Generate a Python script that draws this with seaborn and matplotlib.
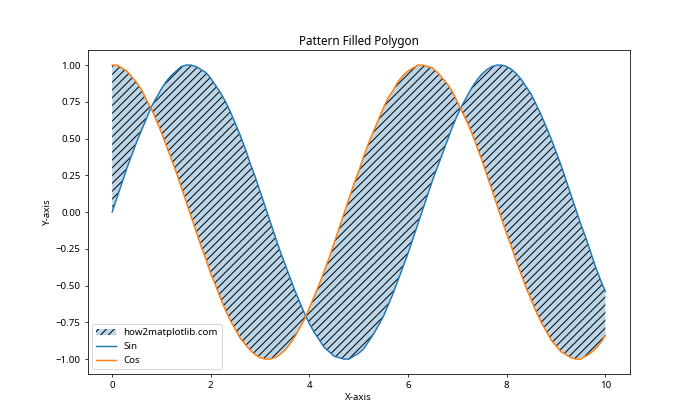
import matplotlib
matplotlib.use("Agg")
import matplotlib.pyplot as plt
import matplotlib.colors as mcolors
import seaborn as sns
import pandas as pd

# values
x_vals = [0.0, 0.1, 0.2, 0.3, 0.4, 0.5, 0.6, 0.7, 0.8, 0.9,
          1.0, 1.1, 1.2, 1.3, 1.4, 1.5, 1.6, 1.7, 1.8, 1.9,
          2.0, 2.1, 2.2, 2.3, 2.4, 2.5, 2.6, 2.7, 2.8, 2.9,
          3.0, 3.1, 3.2, 3.3, 3.4, 3.5, 3.6, 3.7, 3.8, 3.9,
          4.0, 4.1, 4.2, 4.3, 4.4, 4.5, 4.6, 4.7, 4.8, 4.9,
          5.0, 5.1, 5.2, 5.3, 5.4, 5.5, 5.6, 5.7, 5.8, 5.9,
          6.0, 6.1, 6.2, 6.3, 6.4, 6.5, 6.6, 6.7, 6.8, 6.9,
          7.0, 7.1, 7.2, 7.3, 7.4, 7.5, 7.6, 7.7, 7.8, 7.9,
          8.0, 8.1, 8.2, 8.3, 8.4, 8.5, 8.6, 8.7, 8.8, 8.9,
          9.0, 9.1, 9.2, 9.3, 9.4, 9.5, 9.6, 9.7, 9.8, 9.9,
          10.0]
sin_vals = [0.00, 0.10, 0.20, 0.30, 0.39, 0.48, 0.56, 0.64, 0.72, 0.78,
            0.84, 0.89, 0.93, 0.96, 0.99, 1.00, 1.00, 0.99, 0.97, 0.95,
            0.91, 0.86, 0.81, 0.75, 0.68, 0.60, 0.52, 0.43, 0.33, 0.24,
            0.14, 0.04, -0.06, -0.16, -0.26, -0.35, -0.44, -0.53, -0.61, -0.69,
            -0.76, -0.82, -0.87, -0.92, -0.95, -0.98, -0.99, -1.00, -1.00, -0.98,
            -0.96, -0.93, -0.88, -0.83, -0.77, -0.71, -0.63, -0.55, -0.46, -0.37,
            -0.28, -0.18, -0.08, 0.02, 0.12, 0.22, 0.31, 0.40, 0.49, 0.58,
            0.66, 0.73, 0.79, 0.85, 0.90, 0.94, 0.97, 0.99, 1.00, 1.00,
            0.99, 0.97, 0.94, 0.90, 0.85, 0.80, 0.73, 0.66, 0.58, 0.50,
            0.41, 0.32, 0.22, 0.12, 0.02, -0.08, -0.17, -0.27, -0.37, -0.46,
            -0.54]
cos_vals = [1.00, 1.00, 0.98, 0.96, 0.92, 0.88, 0.83, 0.76, 0.70, 0.62,
            0.54, 0.45, 0.36, 0.27, 0.17, 0.07, -0.03, -0.13, -0.23, -0.32,
            -0.42, -0.50, -0.59, -0.67, -0.74, -0.80, -0.86, -0.90, -0.94, -0.97,
            -0.99, -1.00, -1.00, -0.99, -0.97, -0.94, -0.90, -0.85, -0.79, -0.73,
            -0.65, -0.57, -0.49, -0.40, -0.31, -0.21, -0.11, -0.01, 0.09, 0.19,
            0.28, 0.38, 0.47, 0.55, 0.63, 0.71, 0.78, 0.83, 0.89, 0.93,
            0.96, 0.98, 1.00, 1.00, 0.99, 0.98, 0.95, 0.91, 0.87, 0.82,
            0.75, 0.68, 0.61, 0.53, 0.44, 0.35, 0.25, 0.15, 0.05, -0.05,
            -0.15, -0.24, -0.34, -0.43, -0.52, -0.60, -0.68, -0.75, -0.81, -0.87,
            -0.91, -0.95, -0.97, -0.99, -1.00, -1.00, -0.98, -0.96, -0.93, -0.89,
            -0.84]

df = pd.DataFrame({"x": x_vals, "sin": sin_vals, "cos": cos_vals})

plt.rcParams['font.family'] = ['Noto Sans', 'DejaVu Sans']

fig, ax = plt.subplots(figsize=(10, 6), dpi=70)

# hatched area between the two curves
fill_face = mcolors.to_rgba("C0", 0.3)
ax.fill_between(df["x"], df["sin"], df["cos"], facecolor=fill_face,
                edgecolor="black", hatch="///", linewidth=0,
                label="how2matplotlib.com")
sns.lineplot(data=df, x="x", y="sin", ax=ax, color="C0", label="Sin")
sns.lineplot(data=df, x="x", y="cos", ax=ax, color="C1", label="Cos")

ax.set_title("Pattern Filled Polygon")
ax.set_xlabel("X-axis")
ax.set_ylabel("Y-axis")
ax.legend(loc="lower left")

plt.savefig("out.png", dpi=70)
